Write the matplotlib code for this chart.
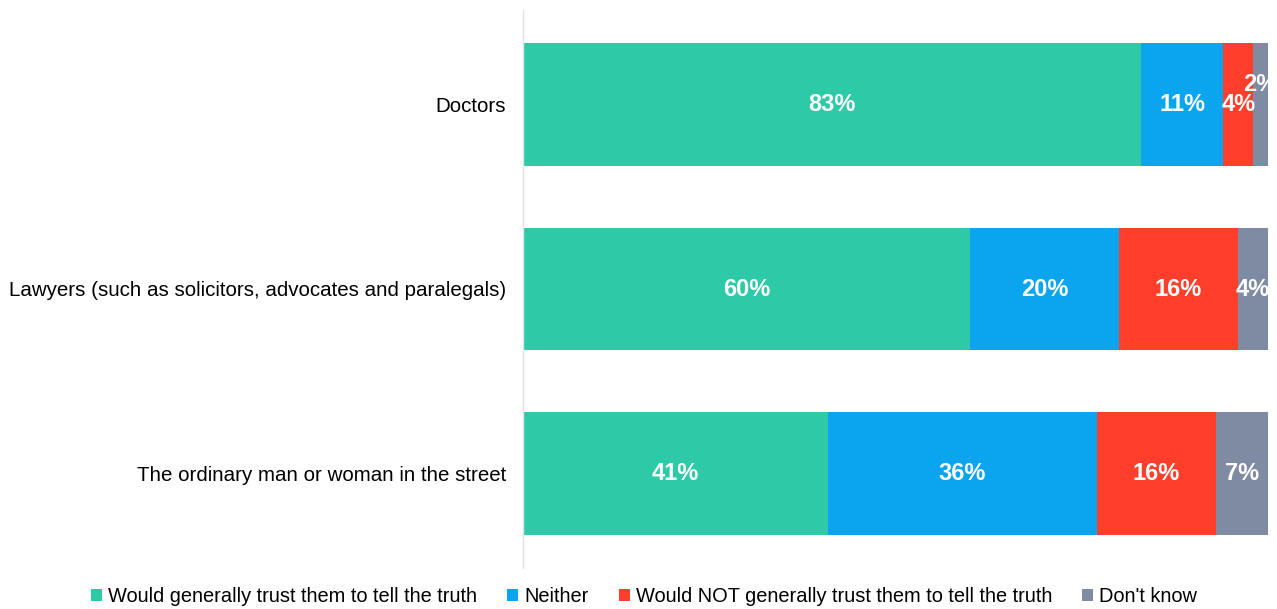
import numpy as np
import matplotlib.pyplot as plt
from matplotlib.patches import Patch

plt.rcParams['font.family'] = ['Liberation Sans', 'DejaVu Sans']

categories = ['Doctors',
              'Lawyers (such as solicitors, advocates and paralegals)',
              'The ordinary man or woman in the street']
series = ['Would generally trust them to tell the truth',
          'Neither',
          'Would NOT generally trust them to tell the truth',
          "Don't know"]
trust = [83, 60, 41]
neither = [11, 20, 36]
not_trust = [4, 16, 16]
dont_know = [2, 4, 7]
colors = ['#2ECAA8', '#0AA5EE', '#FF3F2B', '#7F8AA3']

values = [trust, neither, not_trust, dont_know]

fig = plt.figure(figsize=(12.77, 6.09), dpi=100)
ax = fig.add_axes([523 / 1277, 1 - 568 / 609, 745 / 1277, 558 / 609])

y = np.arange(len(categories))
left = np.zeros(len(categories))
for name, vals, col in zip(series, values, colors):
    vals = np.array(vals, dtype=float)
    ax.barh(y, vals, left=left, height=0.665, color=col, label=name)
    for i, v in enumerate(vals):
        dy = 0
        # the small last segment in the first row gets its label lifted
        if v <= 2:
            dy = -0.105
        ax.text(left[i] + v / 2, y[i] + dy, f'{int(v)}%', ha='center', va='center',
                color='white', fontsize=17, fontweight='bold', clip_on=False)
    left += vals

ax.set_xlim(0, 100)
ax.set_ylim(2.51, -0.51)
ax.set_yticks(y)
ax.set_yticklabels(categories, fontsize=14.8)
ax.tick_params(axis='y', length=0, pad=12)
ax.set_xticks([])
for s in ['top', 'right', 'bottom']:
    ax.spines[s].set_visible(False)
ax.spines['left'].set_color('#E3E3E3')
ax.spines['left'].set_linewidth(1)

handles = [Patch(facecolor=c, edgecolor='none') for c in colors]
fig.legend(handles, series, loc='center', bbox_to_anchor=(644 / 1277, 1 - 597 / 609),
           ncol=4, frameon=False, fontsize=14.4, handlelength=0.55, handleheight=0.55,
           handletextpad=0.3, columnspacing=1.5)

fig.savefig('out.png', dpi=100)
